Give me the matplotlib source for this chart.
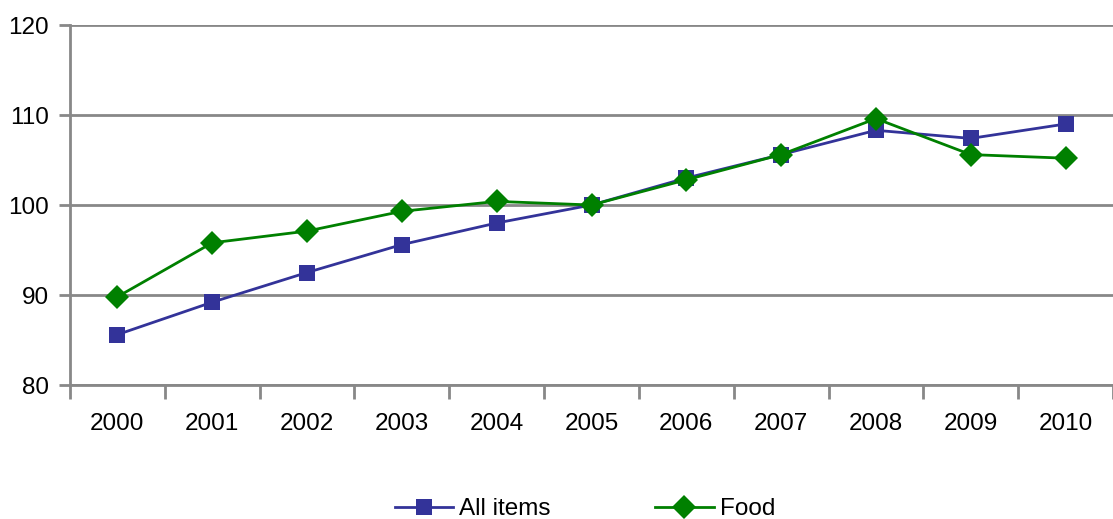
import matplotlib
matplotlib.use("Agg")
import matplotlib.pyplot as plt
from matplotlib.lines import Line2D

years = ["2000", "2001", "2002", "2003", "2004", "2005", "2006", "2007", "2008", "2009", "2010"]
all_items = [85.6, 89.2, 92.5, 95.6, 98.0, 100.0, 103.0, 105.6, 108.3, 107.4, 109.0]
food = [89.8, 95.8, 97.1, 99.3, 100.4, 100.0, 102.8, 105.6, 109.6, 105.6, 105.2]
y_ticks = [80, 90, 100, 110, 120]

plt.rcParams['font.family'] = ['Liberation Sans', 'DejaVu Sans']

W, H = 1113, 519
fig = plt.figure(figsize=(W / 100, H / 100), dpi=100)
ax = fig.add_axes([70 / W, 1 - 385 / H, (1113 - 70) / W, (385 - 25) / H])

x = list(range(len(years)))
blue = "#333399"
green = "#008000"
ax.plot(x, all_items, color=blue, lw=2, marker="s", markersize=12, markeredgewidth=0,
        label="All items", zorder=3)
ax.plot(x, food, color=green, lw=2, marker="D", markersize=12, markeredgewidth=0,
        label="Food", zorder=4)

ax.set_xlim(-0.5, len(years) - 0.5)
ax.set_ylim(80, 120)
ax.set_yticks(y_ticks)
ax.set_yticklabels([str(v) for v in y_ticks], fontsize=17.5)
ax.yaxis.grid(True, color="#888888", lw=2)
ax.set_axisbelow(True)

ax.set_xticks([i - 0.5 for i in range(len(years) + 1)])
ax.set_xticklabels([])
ax.set_xticks(x, minor=True)
ax.set_xticklabels(years, minor=True, fontsize=17.5)
ax.tick_params(axis="x", which="minor", length=0, pad=20)
ax.tick_params(axis="x", which="major", length=10, width=2, color="#888888")
ax.tick_params(axis="y", length=8, width=2, color="#888888", pad=7)

for s in ["top", "right"]:
    ax.spines[s].set_visible(False)
for s in ["left", "bottom"]:
    ax.spines[s].set_color("#888888")
    ax.spines[s].set_linewidth(2)

handles = [
    Line2D([], [], color=blue, lw=2, marker="s", markersize=12, markeredgewidth=0),
    Line2D([], [], color=green, lw=2, marker="D", markersize=12, markeredgewidth=0),
]
fig.legend(handles, ["All items", "Food"], loc="center", bbox_to_anchor=(585 / W, 1 - 509 / H),
           ncol=2, frameon=False, fontsize=17.5, handlelength=2.4, handletextpad=0.25,
           columnspacing=4.3)

fig.savefig("out.png", dpi=100)
